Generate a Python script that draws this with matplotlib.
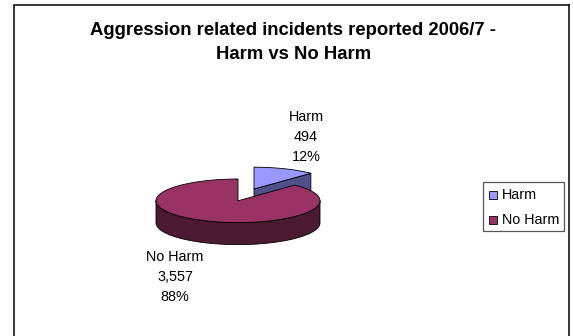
import numpy as np
import matplotlib
matplotlib.use("Agg")
import matplotlib.pyplot as plt
from matplotlib.patches import Rectangle, Polygon

plt.rcParams['font.family'] = ['Liberation Sans', 'DejaVu Sans']

categories = ["Harm", "No Harm"]
values = [494, 3557]
title_lines = ["Aggression related incidents reported 2006/7 -", "Harm vs No Harm"]
top_colors = ["#9999FF", "#993366"]
side_colors = ["#50508A", "#4D1A33"]

W, H = 573, 336
fig = plt.figure(figsize=(W / 100, H / 100), dpi=100)
ax = fig.add_axes([0, 0, 1, 1])
ax.set_xlim(0, W)
ax.set_ylim(H, 0)
ax.axis("off")

# chart frame (runs off the bottom of the image)
ax.plot([14, 14], [H + 2, 4.5], color="black", lw=1.1, solid_capstyle="butt", zorder=1)
ax.plot([14, 568.5], [4.5, 4.5], color="black", lw=1.1, zorder=1)
ax.plot([568.5, 568.5], [4.5, H + 2], color="black", lw=1.1, zorder=1)

ax.text(293.5, 35, title_lines[0], ha="center", va="baseline", fontsize=13.3,
        fontweight="bold", color="black")
ax.text(293.5, 59.3, title_lines[1], ha="center", va="baseline", fontsize=13.3,
        fontweight="bold", color="black")

# pie geometry
rx, ry, depth = 82.0, 21.8, 22.0
total = sum(values)
fractions = [v / total for v in values]
harm_sweep = 2 * np.pi * fractions[0]


def rim(cx, cy, a0, a1, n=200):
    """Points on the ellipse; angle is clockwise from 12 o'clock."""
    t = np.linspace(a0, a1, n)
    return np.column_stack([cx + rx * np.sin(t), cy - ry * np.cos(t)])


EDGE = dict(edgecolor="black", linewidth=0.6, joinstyle="round")

# Harm slice (exploded up and to the right)
hx, hy = 254.0, 189.0
tip = rim(hx, hy, harm_sweep, harm_sweep, 1)[0]
ax.add_patch(Polygon([(hx, hy), tip, (tip[0], tip[1] + depth), (hx, hy + depth)],
                     closed=True, facecolor=side_colors[0], zorder=2, **EDGE))
ax.add_patch(Polygon(np.vstack([[(hx, hy)], rim(hx, hy, 0, harm_sweep)]), closed=True,
                     facecolor=top_colors[0], zorder=3, **EDGE))

# No Harm slice
cx, cy = 238.0, 200.8
front = rim(cx, cy, np.pi / 2, 3 * np.pi / 2)
wall = np.vstack([front, (front + [0, depth])[::-1]])
ax.add_patch(Polygon(wall, closed=True, facecolor=side_colors[1], zorder=4, **EDGE))
ax.add_patch(Polygon(np.vstack([[(cx, cy)], rim(cx, cy, harm_sweep, 2 * np.pi)]), closed=True,
                     facecolor=top_colors[1], zorder=5, **EDGE))

# data labels
label_pos = [(306, [121, 141, 161]), (175, [261, 281, 301])]
for name, val, frac, (lx, ys) in zip(categories, values, fractions, label_pos):
    for y, s in zip(ys, [name, f"{val:,}", f"{frac * 100:.0f}%"]):
        ax.text(lx, y, s, ha="center", va="baseline", fontsize=10.4, color="black", zorder=6)

# legend
ax.add_patch(Rectangle((483, 182), 81, 49, facecolor="white", edgecolor="#555555", lw=0.9, zorder=6))
for name, col, y in zip(categories, top_colors, [199.3, 224]):
    ax.add_patch(Rectangle((489, y - 8), 7.5, 8, facecolor=col, edgecolor="black", lw=0.6, zorder=7))
    ax.text(502, y, name, ha="left", va="baseline", fontsize=10.4, color="black", zorder=7)

fig.savefig("out.png", dpi=100, facecolor="white")
